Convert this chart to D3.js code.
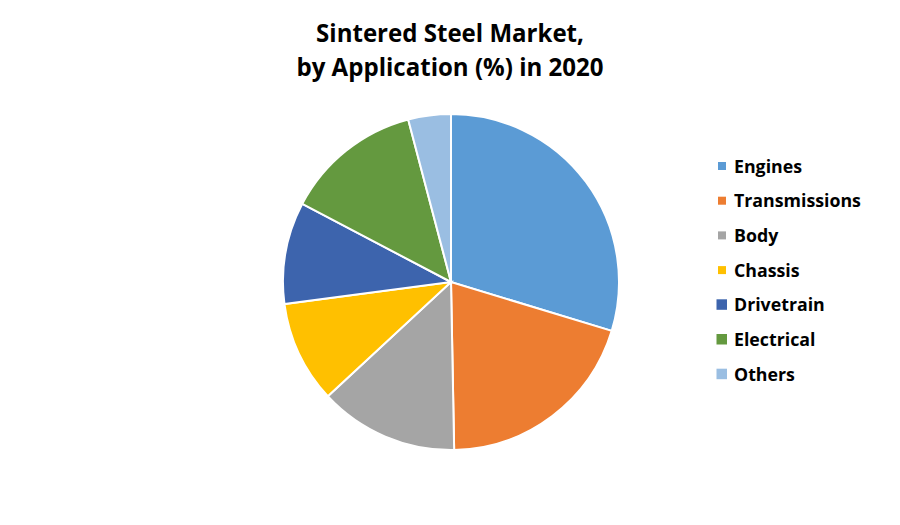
<!DOCTYPE html>
<html><head><meta charset="utf-8">
<script src="https://cdn.jsdelivr.net/npm/d3@7"></script>
<style>body{margin:0;background:#fff;} svg{display:block;}</style>
</head><body>
<svg id="c" width="900" height="525"></svg>
<script>
const categories = ["Engines","Transmissions","Body","Chassis","Drivetrain","Electrical","Others"];
const values = [29.7, 20.0, 13.4, 9.8, 9.8, 13.2, 4.1];
const colors = ["#5B9BD5","#ED7D31","#A5A5A5","#FFC000","#3D64AD","#64993F","#9ABEE2"];
const titleLines = ["Sintered Steel Market,","by Application (%) in 2020"];

const svg = d3.select("#c");
const font = "'Open Sans', Lato, sans-serif";
const cx = 451, cy = 282, r = 168;

const title = svg.append("g").selectAll("text").data(titleLines).join("text")
  .attr("x", 450).attr("y", (d,i)=>42 + i*34)
  .attr("text-anchor","middle").attr("font-family",font).attr("font-weight","bold")
  .attr("font-size",22).attr("fill","#000").text(d=>d);
// fit title size to reference width of first line (~268px)
const tw = title.nodes()[0].getComputedTextLength();
title.attr("font-size", 22*268/tw);

const data = categories.map((c,i)=>({c, v:values[i], col:colors[i]}));
const pie = d3.pie().value(d=>d.v).sort(null);
const arc = d3.arc().innerRadius(0).outerRadius(r);
svg.append("g").attr("transform",`translate(${cx},${cy})`)
  .selectAll("path").data(pie(data)).join("path")
  .attr("d",arc).attr("fill",d=>d.data.col)
  .attr("stroke","#fff").attr("stroke-width",2);

const lg = svg.append("g");
const items = lg.selectAll("g").data(data).join("g")
  .attr("transform",(d,i)=>`translate(0,${166 + i*34.7})`);
items.append("rect")
  .attr("x",(d,i)=> i<4 ? 718 : 716.5)
  .attr("y",(d,i)=> i<4 ? -4 : -5.5)
  .attr("width",(d,i)=> i<4 ? 8 : 10.5)
  .attr("height",(d,i)=> i<4 ? 8 : 10.5)
  .attr("fill",d=>d.col);
const lt = items.append("text").attr("x",734).attr("y",6.5)
  .attr("font-family",font).attr("font-weight","bold").attr("font-size",17)
  .attr("fill","#000").text(d=>d.c);
const lw = lt.nodes()[1].getComputedTextLength();
lt.attr("font-size", 17*127/lw);
</script>
</body></html>
